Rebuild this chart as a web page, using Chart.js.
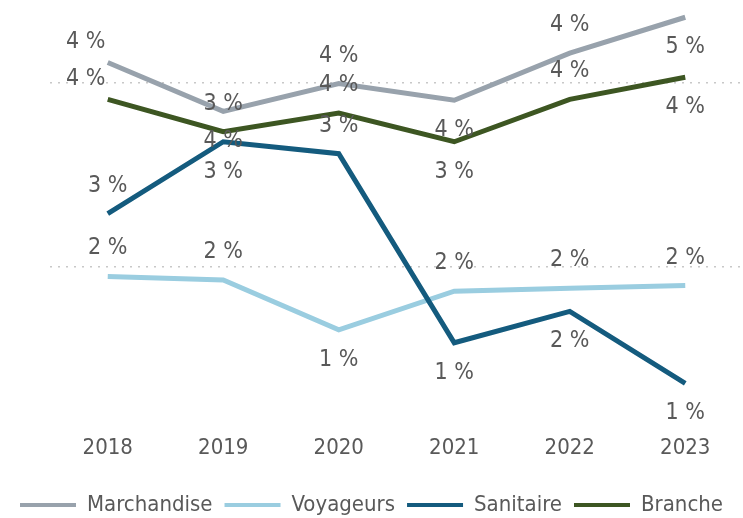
<!DOCTYPE html>
<html lang="fr">
<head>
<meta charset="UTF-8">
<title>Évolution 2018-2023</title>
<script src="https://cdn.jsdelivr.net/npm/chart.js"></script>
<style>
    body { margin: 0; background: #fff; }
    .wrap { width: 743px; height: 518px; position: relative; }
</style>
</head>
<body>
<div class="wrap"><canvas id="chart"></canvas></div>
<script>
// data (percent)
const years = ['2018', '2019', '2020', '2021', '2022', '2023'];
const marchandise = [4.22, 3.69, 3.99, 3.81, 4.32, 4.71];
const voyageurs = [1.90, 1.86, 1.32, 1.74, 1.77, 1.80];
const sanitaire = [2.58, 3.36, 3.23, 1.18, 1.52, 0.74];
const branche = [3.82, 3.47, 3.67, 3.36, 3.82, 4.06];
const gridValues = [2, 4];

// where each value label sits: a = above, b = below, l = up-left
const labelPlace = {
    Marchandise: ['l', 'b', 'a', 'b', 'a', 'b'],
    Voyageurs: ['a', 'a', 'b', 'a', 'a', 'a'],
    Sanitaire: ['a', 'b', 'a', 'b', 'b', 'b'],
    Branche: ['l', 'a', 'a', 'b', 'a', 'b']
};

const FONT = "'DejaVu Sans Condensed', 'Liberation Sans Narrow', 'DejaVu Sans', sans-serif";
const TEXT = '#595959';

const valueLabels = {
    id: 'valueLabels',
    afterDatasetsDraw(chart) {
        const ctx = chart.ctx;
        ctx.save();
        ctx.font = '23px ' + FONT;
        ctx.fillStyle = TEXT;
        ctx.textAlign = 'center';
        ctx.textBaseline = 'middle';
        chart.data.datasets.forEach((ds, i) => {
            const meta = chart.getDatasetMeta(i);
            meta.data.forEach((pt, j) => {
                const place = labelPlace[ds.label][j];
                let dx = 0, dy = -28;
                if (place === 'b') dy = 30;
                if (place === 'l') { dx = -22; dy = -20; }
                ctx.fillText(Math.round(ds.data[j]) + ' %', pt.x + dx, pt.y + dy);
            });
        });
        ctx.restore();
    }
};

function line(label, data, color, order) {
    return {
        label: label,
        data: data,
        borderColor: color,
        backgroundColor: color,
        borderWidth: 5,
        pointRadius: 0,
        pointStyle: 'line',
        tension: 0,
        order: order
    };
}

new Chart(document.getElementById('chart'), {
    type: 'line',
    data: {
        labels: years,
        datasets: [
            line('Marchandise', marchandise, '#98a2ac', 1),
            line('Voyageurs', voyageurs, '#9acde0', 2),
            line('Sanitaire', sanitaire, '#145b7e', 0),
            line('Branche', branche, '#3d5622', 1)
        ]
    },
    options: {
        responsive: true,
        maintainAspectRatio: false,
        animation: false,
        layout: { padding: { left: 0, right: 0, top: 0, bottom: -8 } },
        plugins: {
            tooltip: { enabled: false },
            legend: {
                position: 'bottom',
                labels: {
                    color: TEXT,
                    font: { family: FONT, size: 22 },
                    usePointStyle: true,
                    pointStyle: 'line',
                    pointStyleWidth: 56,
                    padding: 12,
                    sort: (a, b) => a.datasetIndex - b.datasetIndex,
                    generateLabels(chart) {
                        const items = Chart.defaults.plugins.legend.labels.generateLabels(chart);
                        items.forEach(it => { it.lineWidth = 4; });
                        return items;
                    }
                }
            }
        },
        scales: {
            x: {
                offset: true,
                grid: { display: false, drawTicks: false },
                border: { display: false },
                ticks: { color: TEXT, font: { family: FONT, size: 22 }, padding: 8 },
                afterFit(scale) { scale.height += 13; }
            },
            y: {
                min: 0.271,
                max: 4.897,
                border: { display: false, dash: [2, 6] },
                ticks: { display: false },
                afterBuildTicks(scale) {
                    scale.ticks = gridValues.map(v => ({ value: v }));
                },
                grid: {
                    color: '#c8c8c8',
                    lineWidth: 1.5,
                    drawTicks: false
                },
                afterFit(scale) { scale.width = 50; }
            }
        }
    },
    plugins: [valueLabels]
});
</script>
</body>
</html>
